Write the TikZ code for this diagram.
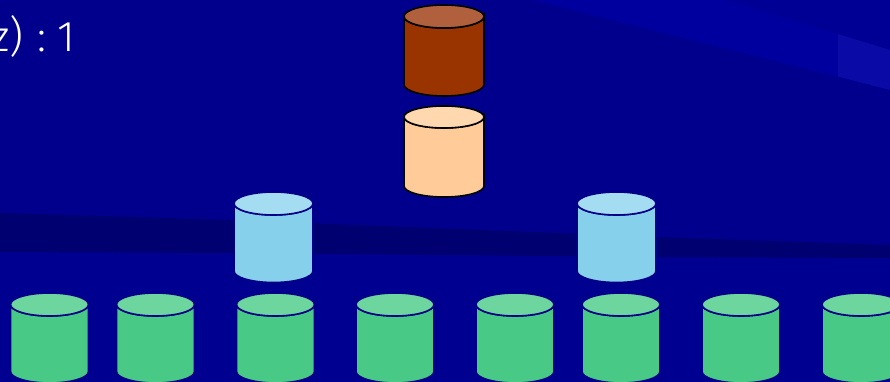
\documentclass[tikz,border=0pt]{standalone}
\usepackage{fontspec}
\newfontfamily\thinsans{Fira Sans Light}
\definecolor{bg}{HTML}{00008C}
\definecolor{bandlight}{HTML}{00009E}
\definecolor{cornerbg}{HTML}{000094}
\definecolor{patch}{HTML}{0A0AA6}
\definecolor{banddark}{HTML}{000070}
\definecolor{belowband}{HTML}{000090}
\definecolor{brownbody}{HTML}{993300}
\definecolor{browntop}{HTML}{B0603C}
\definecolor{peachbody}{HTML}{FFCC99}
\definecolor{peachtop}{HTML}{FFD8B0}
\definecolor{bluebody}{HTML}{87D0EC}
\definecolor{bluetop}{HTML}{A4DCF2}
\definecolor{greenbody}{HTML}{48C985}
\definecolor{greentop}{HTML}{6CD69E}
\definecolor{navyline}{HTML}{000088}
\tikzset{
  drumbrown/.style={draw=black, line width=1.6pt, body/.style={fill=brownbody}, lid/.style={fill=browntop}},
  drumpeach/.style={draw=black, line width=1.6pt, body/.style={fill=peachbody}, lid/.style={fill=peachtop}},
  drumblue/.style={draw=navyline, line width=1.6pt, body/.style={fill=bluebody}, lid/.style={fill=bluetop}},
  drumgreen/.style={draw=navyline, line width=1.6pt, body/.style={fill=greenbody}, lid/.style={fill=greentop}},
  labeltext/.style={text=white, inner sep=0pt, font=\thinsans\fontsize{43}{43}\selectfont}
}
% #1 name, #2 cx, #3 ytop, #4 rx, #5 ry, #6 height, #7 style
\newcommand\drawdrum[7]{%
  \coordinate (#1) at (#2,#3);
  \path[#7, body] ({#2-#4},#3) -- ({#2-#4},{#3-#6})
     arc[start angle=180, end angle=360, x radius=#4pt, y radius=#5pt]
     -- ({#2+#4},#3)
     arc[start angle=0, end angle=-180, x radius=#4pt, y radius=#5pt] -- cycle;
  \path[#7, lid] (#2,#3) ellipse[x radius=#4pt, y radius=#5pt];
}
\begin{document}
\begin{tikzpicture}[x=1pt,y=1pt]
\useasboundingbox (0,0) rectangle (890,382);
% background
\fill[bg] (0,0) rectangle (890,382);
\fill[belowband] (0,0) rectangle (890,130);
\fill[bandlight] (532,382) -- (727,382) -- (890,332) -- (890,292) -- cycle;
\fill[cornerbg] (727,382) -- (890,382) -- (890,332) -- cycle;
\fill[patch] (838,348) -- (890,332) -- (890,292) -- (838,305.5) -- cycle;
\fill[banddark] (0,169) -- (230,162) -- (657,145) -- (890,137) -- (890,124) -- (657,125) -- (230,129) -- (0,130) -- cycle;
% text
\node[labeltext, anchor=base east] (labelA) at (24,330) {z)};
\node[labeltext, anchor=base] (labelB) at (42,330) {:};
\node[labeltext, anchor=base east] (labelC) at (75,330) {1};
% cylinders
\drawdrum{brown}{444}{365.5}{40}{11.5}{68}{drumbrown}
\drawdrum{peach}{444}{265}{40}{11}{69}{drumpeach}
\drawdrum{blueL}{273.5}{178.5}{39.5}{11.5}{67.5}{drumblue}
\drawdrum{blueR}{616.5}{178.5}{39.5}{11.5}{67.5}{drumblue}
\drawdrum{g1}{49.5}{77.5}{39}{11.5}{67}{drumgreen}
\drawdrum{g2}{155.5}{77.5}{39}{11.5}{67}{drumgreen}
\drawdrum{g3}{275.5}{77.5}{39}{11.5}{67}{drumgreen}
\drawdrum{g4}{395}{77.5}{39}{11.5}{67}{drumgreen}
\drawdrum{g5}{515}{77.5}{39}{11.5}{67}{drumgreen}
\drawdrum{g6}{621}{77.5}{39}{11.5}{67}{drumgreen}
\drawdrum{g7}{741}{77.5}{39}{11.5}{67}{drumgreen}
\drawdrum{g8}{861}{77.5}{39}{11.5}{67}{drumgreen}
\end{tikzpicture}
\end{document}
